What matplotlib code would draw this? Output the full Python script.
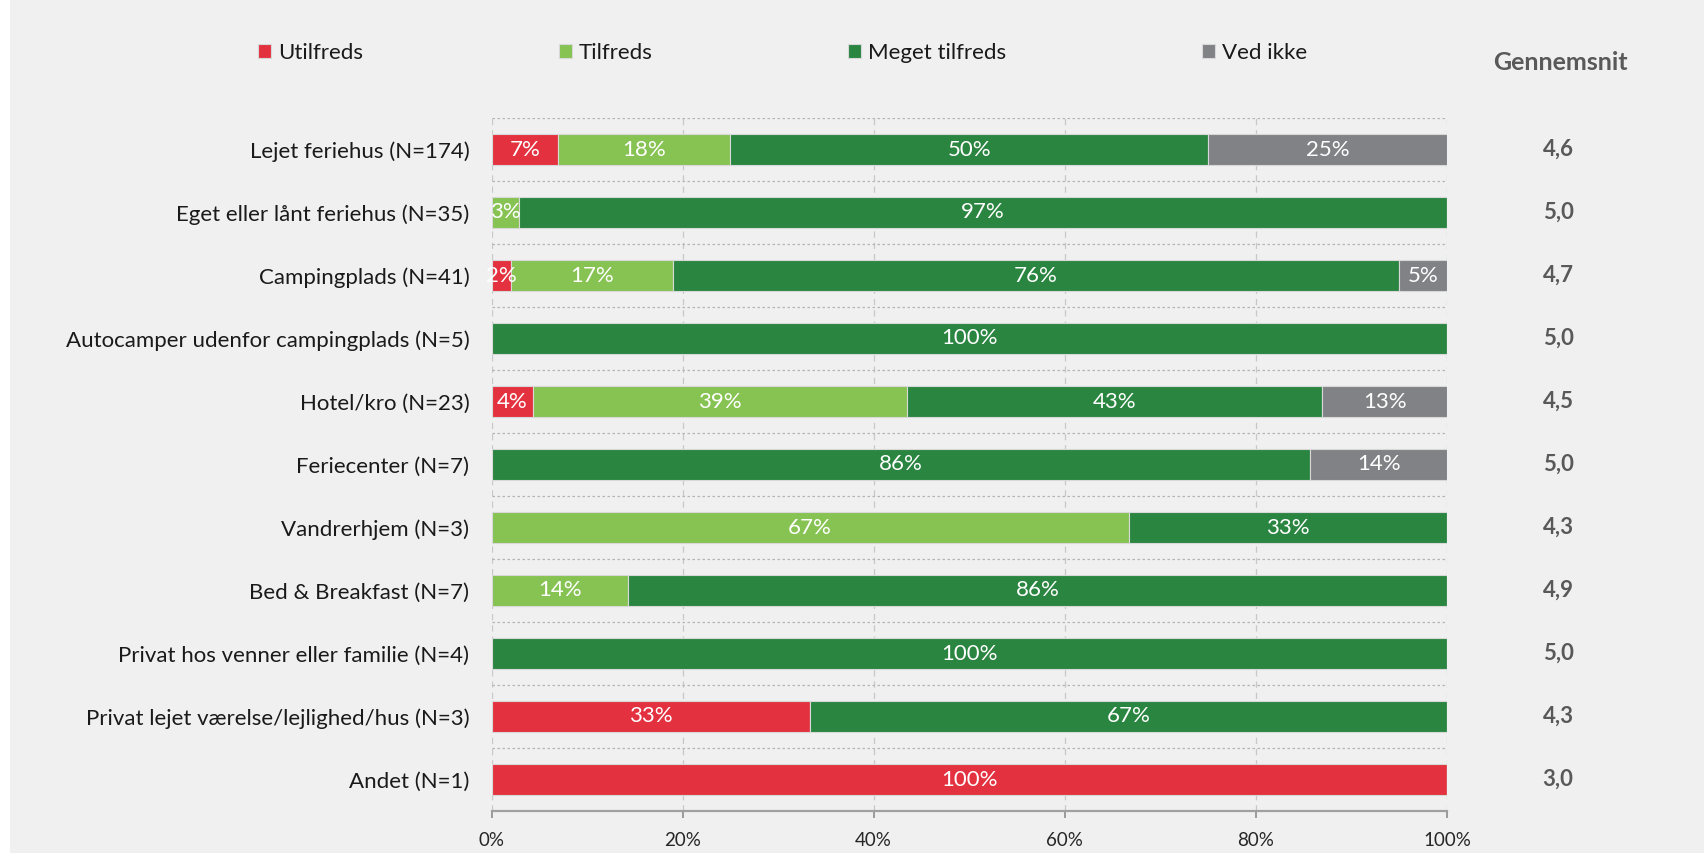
import matplotlib
matplotlib.use("Agg")
import matplotlib.pyplot as plt
import matplotlib.patches as mpatches
from matplotlib.transforms import blended_transform_factory
import numpy as np

plt.rcParams['font.family'] = ['Lato', 'DejaVu Sans']

categories = [
    "Lejet feriehus (N=174)",
    "Eget eller lånt feriehus (N=35)",
    "Campingplads (N=41)",
    "Autocamper udenfor campingplads (N=5)",
    "Hotel/kro (N=23)",
    "Feriecenter (N=7)",
    "Vandrerhjem (N=3)",
    "Bed & Breakfast (N=7)",
    "Privat hos venner eller familie (N=4)",
    "Privat lejet værelse/lejlighed/hus (N=3)",
    "Andet (N=1)",
]
series_names = ["Utilfreds", "Tilfreds", "Meget tilfreds", "Ved ikke"]
utilfreds = [7, 0, 2, 0, 4.35, 0, 0, 0, 0, 33.3, 100]
tilfreds = [18, 2.9, 17, 0, 39.13, 0, 66.7, 14.3, 0, 0, 0]
meget_tilfreds = [50, 97.1, 76, 100, 43.48, 85.7, 33.3, 85.7, 100, 66.7, 0]
ved_ikke = [25, 0, 5, 0, 13.04, 14.3, 0, 0, 0, 0, 0]
gennemsnit = [4.6, 5.0, 4.7, 5.0, 4.5, 5.0, 4.3, 4.9, 5.0, 4.3, 3.0]
x_ticks = [0, 20, 40, 60, 80, 100]
x_tick_labels = ["0%", "20%", "40%", "60%", "80%", "100%"]

colors = ["#e3313f", "#86c352", "#2a8540", "#808285"]
W, H = 1705, 856
fig = plt.figure(figsize=(W / 100, H / 100), dpi=100, facecolor="white")
fig.patches.append(mpatches.Rectangle((10 / W, 3 / H), 1 - 11 / W, 1 - 3 / H,
                                      transform=fig.transFigure, facecolor="#f0f0f0",
                                      edgecolor="none", zorder=-10))

ax = fig.add_axes([491.5 / W, 1 - 811 / H, (1447 - 491.5) / W, (811 - 118) / H])
ax.set_facecolor("none")

FS = 16
y = np.arange(len(categories))
left = np.zeros(len(categories))
for name, vals, col in zip(series_names, [utilfreds, tilfreds, meget_tilfreds, ved_ikke], colors):
    vals = np.array(vals, dtype=float)
    ax.barh(y, vals, left=left, height=0.5, color=col, edgecolor="#d8d8d8",
            linewidth=0.8, label=name, zorder=3)
    for yi, (l, v) in enumerate(zip(left, vals)):
        if v > 0:
            ax.text(l + v / 2, yi, f"{round(v):.0f}%", ha="center", va="center",
                    color="white", fontsize=FS, zorder=4)
    left += vals

ax.set_xlim(0, 100)
ax.set_ylim(len(categories) - 0.5, -0.5)
ax.set_yticks(y)
ax.set_yticklabels(categories, fontsize=FS, color="#1a1a1a")
ax.tick_params(axis="y", length=0, pad=16)
ax.set_xticks(x_ticks)
ax.set_xticklabels(x_tick_labels, fontsize=13.5, color="#262626")
ax.tick_params(axis="x", length=5, width=1.2, color="#8c8c8c", pad=10)
ax.set_yticks(np.arange(-0.5, len(categories) - 0.5, 1), minor=True)
ax.tick_params(axis="y", which="minor", length=0)
ax.grid(axis="x", which="major", linestyle=(0, (5, 4)), color="#c8c8c8", linewidth=0.9, zorder=0)
ax.grid(axis="y", which="minor", linestyle=(0, (2, 2)), color="#b4b4b4", linewidth=0.9, zorder=0)
ax.grid(axis="y", which="major", visible=False)
for s in ["left", "right", "top"]:
    ax.spines[s].set_visible(False)
ax.spines["bottom"].set_color("#a0a0a0")
ax.spines["bottom"].set_linewidth(1.6)

# Gennemsnit column
tr = blended_transform_factory(fig.transFigure, ax.transData)
for yi, g in zip(y, gennemsnit):
    ax.text(1558 / W, yi, f"{g:.1f}".replace(".", ","), transform=tr, ha="center",
            va="center", fontsize=16, fontweight="bold", color="#595959")
fig.text(1560 / W, 1 - 62 / H, "Gennemsnit", ha="center", va="center",
         fontsize=18, fontweight="bold", color="#595959")

handles, labels = ax.get_legend_handles_labels()
leg = fig.legend(handles, labels, loc="center left", bbox_to_anchor=(258 / W, 1 - 53 / H),
                 ncol=4, frameon=False, fontsize=FS, handlelength=0.6, handleheight=0.6,
                 handletextpad=0.3, columnspacing=8.8, borderaxespad=0, borderpad=0)
for t in leg.get_texts():
    t.set_color("#1a1a1a")

fig.savefig("out.png", dpi=100, facecolor=fig.get_facecolor())
